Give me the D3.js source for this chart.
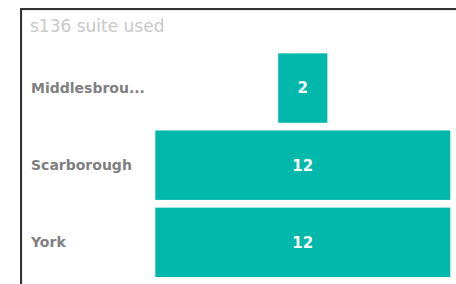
<!DOCTYPE html>
<html>
<head>
<meta charset="utf-8">
<script src="https://cdn.jsdelivr.net/npm/d3@7"></script>
<style>
  body { margin: 0; background: #fff; }
</style>
</head>
<body>
<div id="chart"></div>
<script>
const categories = ["Middlesbrough", "Scarborough", "York"];
const values = [2, 12, 12];
const title = "s136 suite used";

function chart() {
    const width = 456,
        height = 284;

    const svg = d3.select("#chart").append("svg")
        .attr("width", width)
        .attr("height", height)
        .style("font-family", "'DejaVu Sans', sans-serif");

    // card frame (only top and left edges show in the crop)
    svg.append("path")
        .attr("d", `M21,${height} V9 H${width}`)
        .attr("fill", "none")
        .attr("stroke", "#d8d8d8")
        .attr("stroke-width", 1)
        .attr("transform", "translate(1,1)");
    svg.append("path")
        .attr("d", `M21,${height} V9 H${width}`)
        .attr("fill", "none")
        .attr("stroke", "#333")
        .attr("stroke-width", 2);

    svg.append("text")
        .attr("x", 30)
        .attr("y", 31.5)
        .attr("fill", "#c8c8c8")
        .style("font-size", "17px")
        .text(title);

    const y = d3.scaleBand()
        .domain(categories)
        .range([49.5, 280.9])
        .paddingInner(0.1)
        .paddingOuter(0.05);

    const cx = 302.8;
    const x = d3.scaleLinear()
        .domain([0, d3.max(values)])
        .range([0, 295]);

    const rows = svg.append("g").selectAll("g")
        .data(categories.map((c, i) => ({name: c, value: values[i]})))
        .join("g")
        .attr("transform", d => `translate(0,${y(d.name)})`);

    rows.append("rect")
        .attr("x", d => cx - x(d.value) / 2)
        .attr("width", d => x(d.value))
        .attr("height", y.bandwidth())
        .attr("fill", "#01B8AA");

    rows.append("text")
        .attr("x", cx)
        .attr("y", y.bandwidth() / 2)
        .attr("dy", "0.36em")
        .attr("text-anchor", "middle")
        .attr("fill", "#fff")
        .style("font-size", "15px")
        .style("font-weight", "bold")
        .text(d => d.value);

    rows.append("text")
        .attr("x", 31)
        .attr("y", y.bandwidth() / 2)
        .attr("dy", "0.36em")
        .attr("fill", "#808080")
        .style("font-size", "14px")
        .style("font-weight", "bold")
        .text(d => d.name.length > 11 ? d.name.slice(0, 11) + "..." : d.name);
}

window.onload = function() {
    chart();
};
</script>
</body>
</html>
